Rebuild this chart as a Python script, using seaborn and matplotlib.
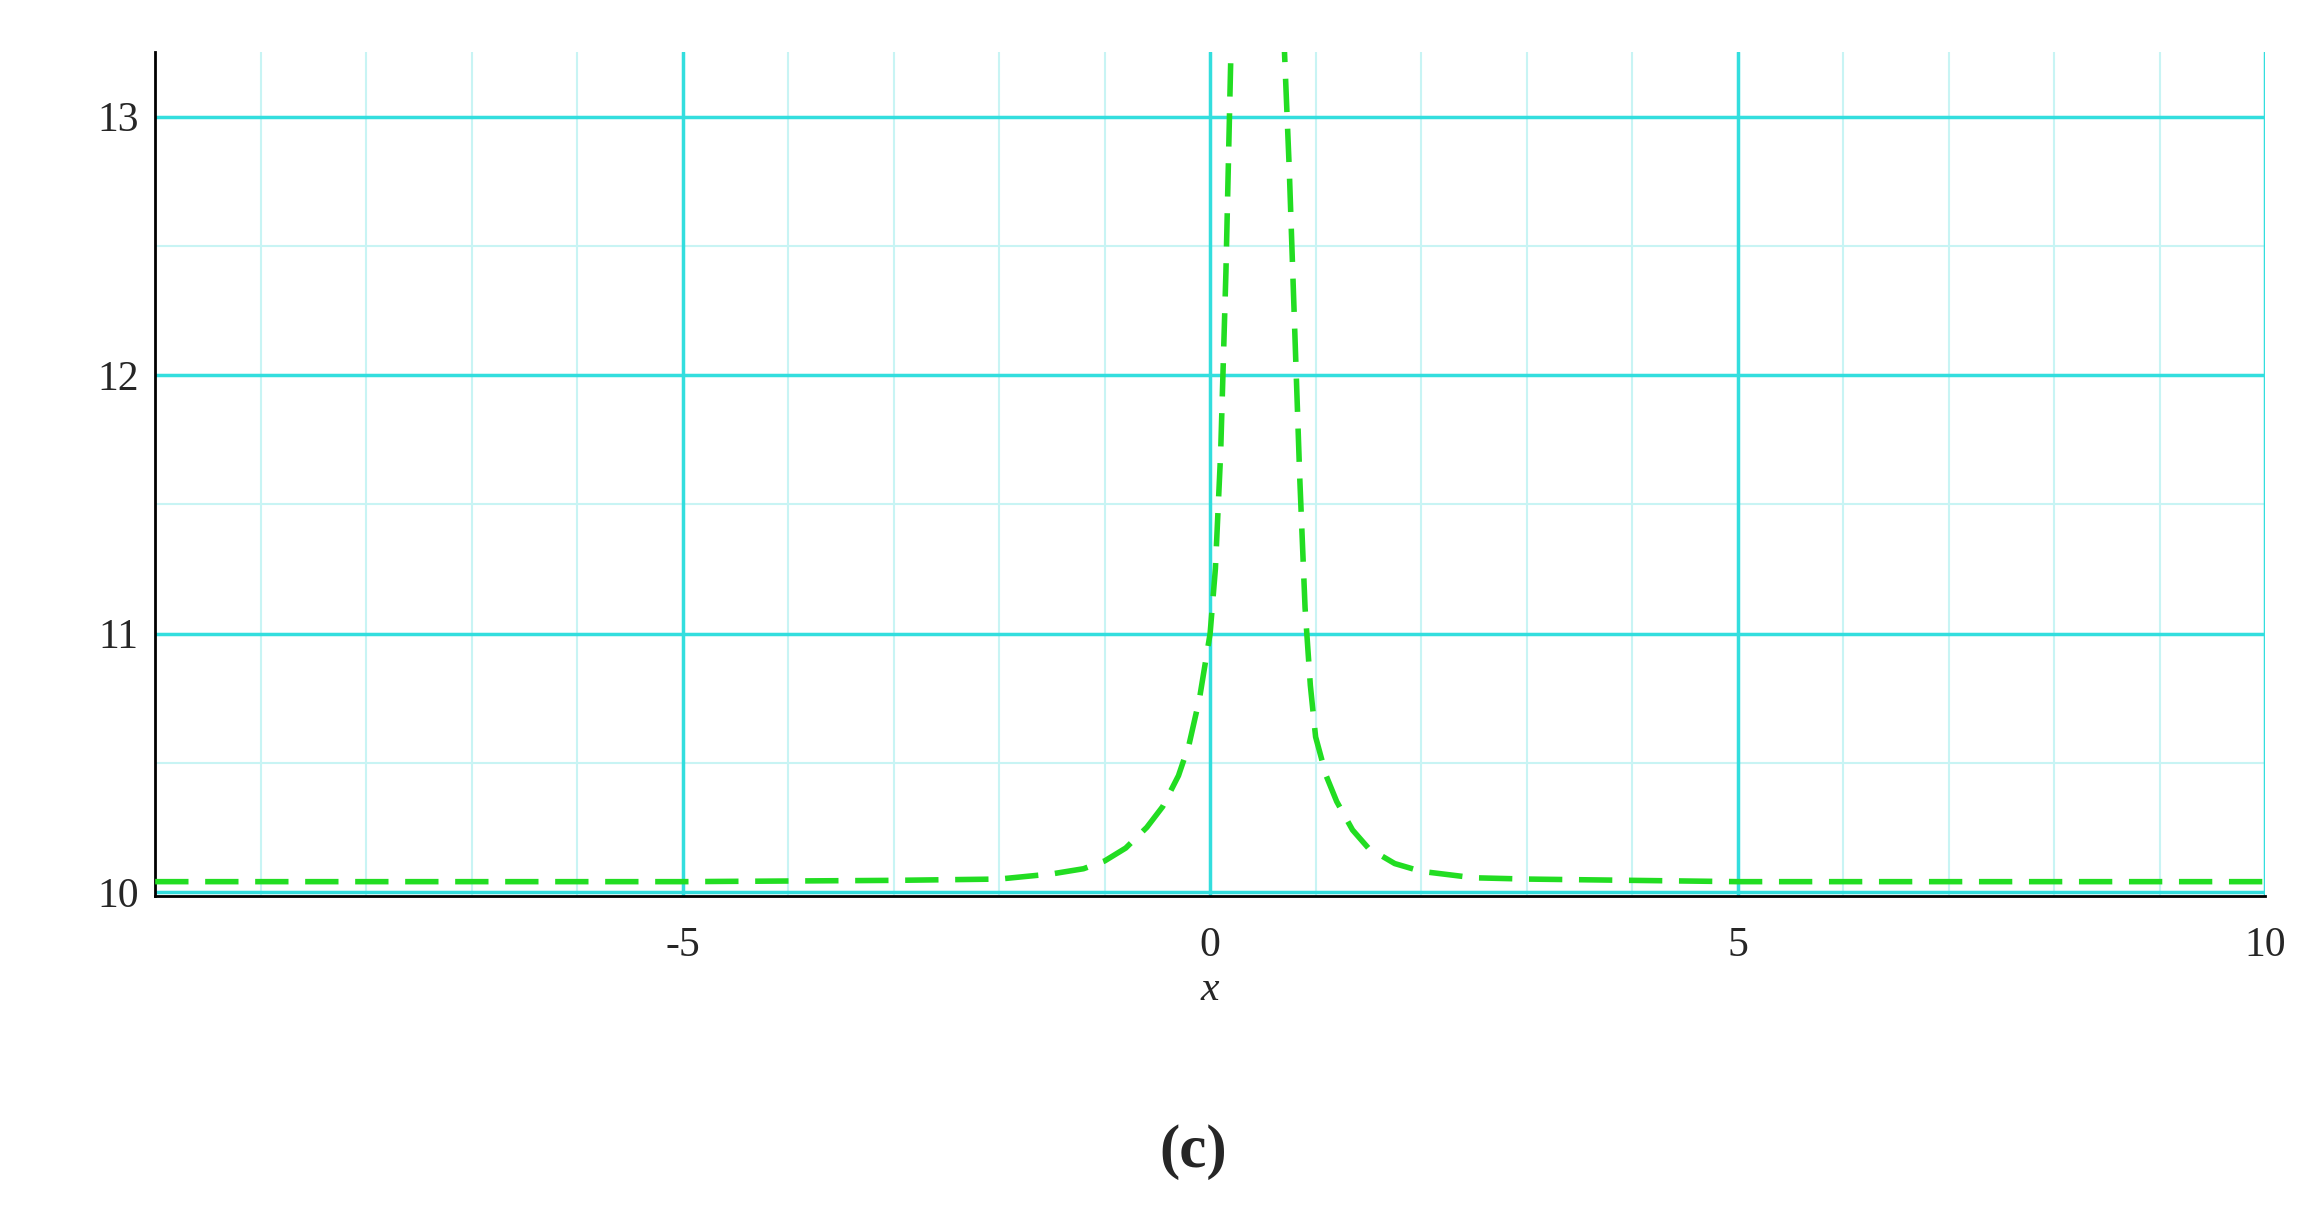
import numpy as np
import pandas as pd
import matplotlib.pyplot as plt
import seaborn as sns

plt.switch_backend("Agg")

# curve values
x_vals = [-10, -5, -3, -2, -1.5, -1.2, -1.0, -0.8, -0.6, -0.45, -0.3, -0.2, -0.1,
          0.0, 0.05, 0.1, 0.15, 0.2,
          0.7, 0.75, 0.8, 0.85, 0.9, 0.95, 1.0, 1.1, 1.2, 1.35, 1.5, 1.75,
          2.0, 2.5, 3.0, 5, 10]
y_vals = [10.04, 10.04, 10.045, 10.05, 10.07, 10.09, 10.12, 10.17, 10.25, 10.33,
          10.45, 10.57, 10.75, 11.0, 11.25, 11.7, 12.4, 13.3,
          13.3, 12.8, 12.2, 11.6, 11.1, 10.8, 10.6, 10.45, 10.35, 10.24, 10.17,
          10.11, 10.08, 10.055, 10.05, 10.04, 10.04]

df = pd.DataFrame({"x": x_vals, "y": y_vals})

sns.set_style("white")
plt.rcParams["font.family"] = ["Liberation Serif", "DejaVu Serif"]
plt.rcParams["axes.unicode_minus"] = False

fig = plt.figure(figsize=(23.16, 12.09), dpi=100)
ax = fig.add_axes([0.067, 0.259, 0.911, 0.698])

major_c = "#33dede"
minor_c = "#c8f4f4"
for v in np.arange(-10, 10.01, 1):
    ax.axvline(v, color=minor_c, lw=1.5, zorder=0)
for v in np.arange(10, 13.3, 0.5):
    ax.axhline(v, color=minor_c, lw=1.5, zorder=0)
for v in [-5, 0, 5, 10]:
    ax.axvline(v, color=major_c, lw=2.5, zorder=1)
for v in [10, 11, 12, 13]:
    ax.axhline(v, color=major_c, lw=2.5, zorder=1)

sns.lineplot(data=df, x="x", y="y", ax=ax, color="#22dd22", lw=4,
             linestyle=(0, (6, 3)), zorder=3)

ax.set_xlim(-10, 10)
ax.set_ylim(9.985, 13.25)
ax.set_xticks([-5, 0, 5, 10])
ax.set_xticks(np.arange(-10, 10.01, 1), minor=True)
ax.set_yticks([10, 11, 12, 13])
ax.set_yticks(np.arange(10, 13.3, 0.5), minor=True)
ax.tick_params(axis="both", which="major", labelsize=30, length=10, width=2,
               direction="in", color="black", pad=12)
ax.tick_params(axis="both", which="minor", length=6, width=1.5, direction="in")
ax.tick_params(axis="x", which="both", direction="out")
ax.set_xlabel("x", fontsize=30, style="italic", labelpad=4)
ax.set_ylabel("")
for s in ["top", "right"]:
    ax.spines[s].set_visible(False)
for s in ["left", "bottom"]:
    ax.spines[s].set_color("black")
    ax.spines[s].set_linewidth(2)

fig.text(0.515, 0.047, "(c)", fontsize=44, fontweight="bold", ha="center",
         va="center")

fig.savefig("out.png", dpi=100)
